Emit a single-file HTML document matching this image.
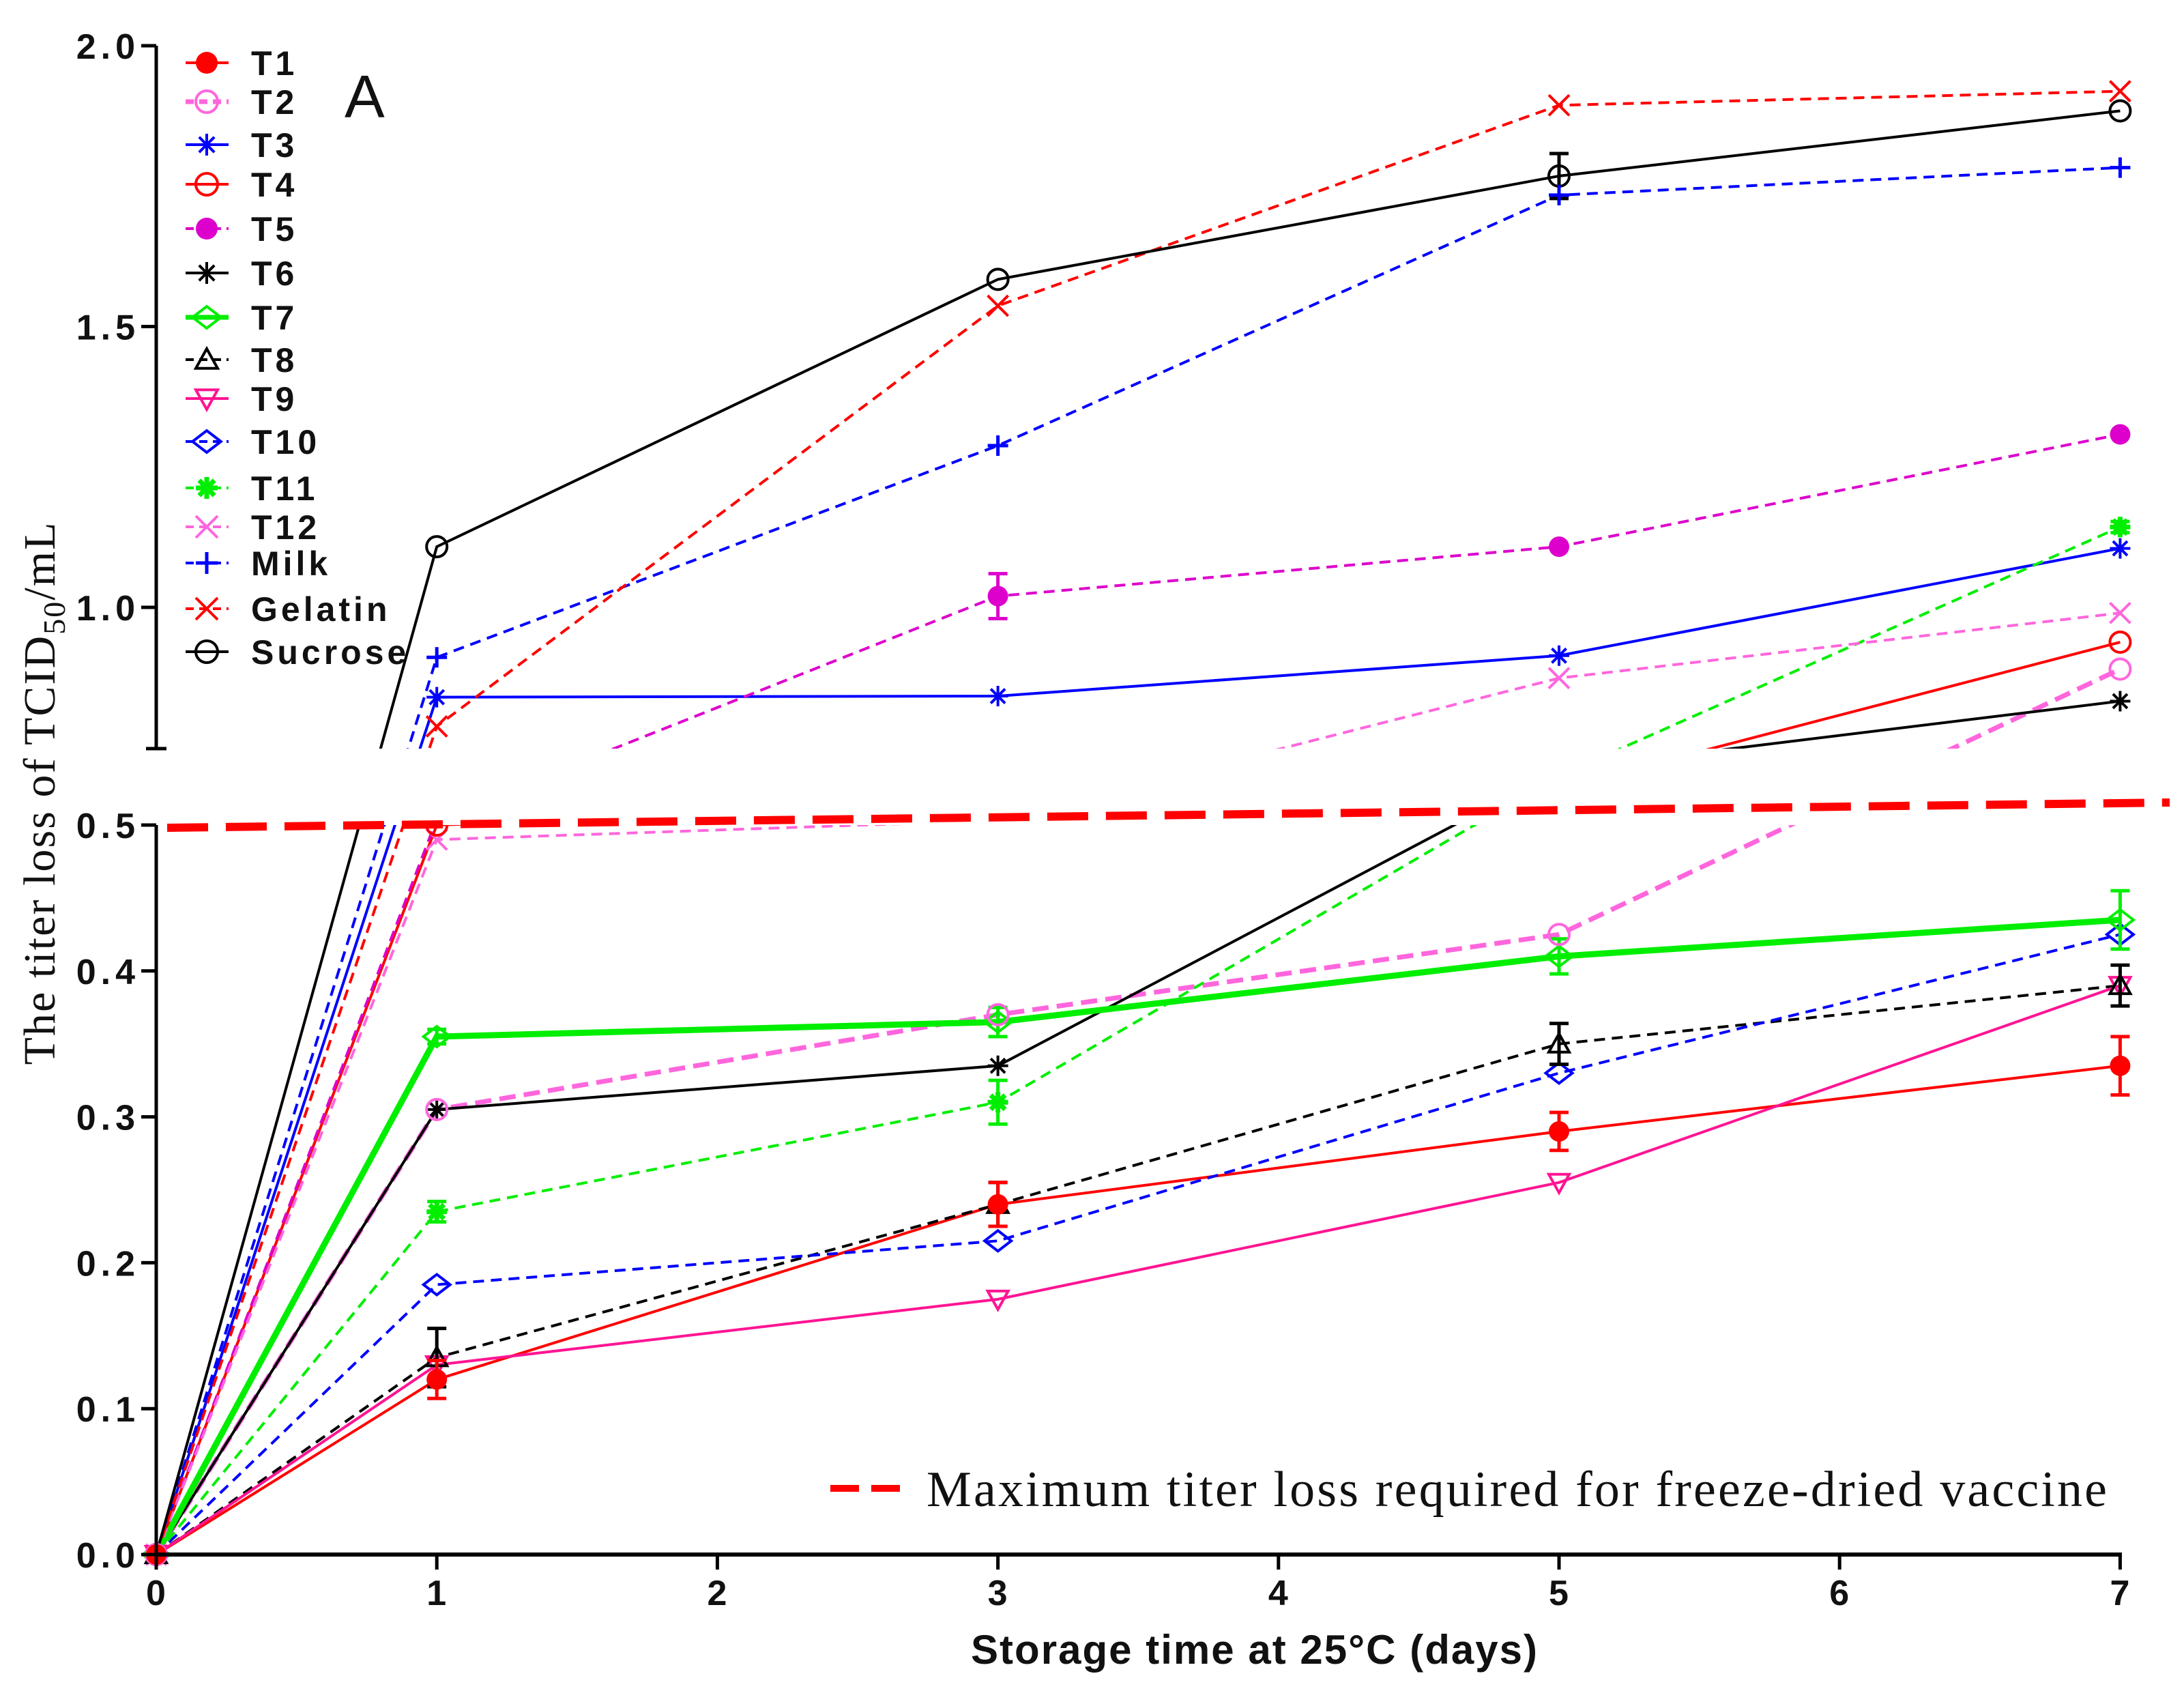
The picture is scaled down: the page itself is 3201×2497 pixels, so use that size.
<!DOCTYPE html>
<html><head><meta charset="utf-8">
<style>
html,body{margin:0;padding:0;background:#fff;}
svg{display:block;}
.tk{font-family:"Liberation Sans",Arial,sans-serif;font-weight:bold;font-size:52px;fill:#111;letter-spacing:7px;}
.lg{font-family:"Liberation Sans",Arial,sans-serif;font-weight:bold;font-size:50px;fill:#111;letter-spacing:5px;}
</style></head>
<body>
<svg id="chart" xmlns="http://www.w3.org/2000/svg" width="3201" height="2497" viewBox="0 0 3201 2497">
<defs>
<clipPath id="clipLow"><rect x="200" y="1209" width="3000" height="1120"/></clipPath>
<clipPath id="clipUp"><rect x="200" y="30" width="3000" height="1067"/></clipPath>
</defs>
<g id="axes"></g>
<g id="lowSeries" clip-path="url(#clipLow)"></g>
<g id="upSeries" clip-path="url(#clipUp)"></g>
<g id="legend"></g>
</svg>
<script>
const days = [0, 1, 3, 5, 7];
const seriesNames = ["T1","T2","T3","T4","T5","T6","T7","T8","T9","T10","T11","T12","Milk","Gelatin","Sucrose"];
const t1 = [0, 0.12, 0.24, 0.29, 0.335];
const t2 = [0, 0.305, 0.37, 0.425, 0.89];
const t3 = [0, 0.84, 0.842, 0.914, 1.105];
const t4 = [0, 0.50, 0.56, 0.62, 0.938];
const t5 = [0, 0.52, 1.02, 1.108, 1.308];
const t6 = [0, 0.305, 0.335, 0.68, 0.833];
const t7 = [0, 0.355, 0.365, 0.41, 0.435];
const t8 = [0, 0.135, 0.24, 0.35, 0.39];
const t9 = [0, 0.13, 0.175, 0.255, 0.39];
const t10 = [0, 0.185, 0.215, 0.33, 0.425];
const t11 = [0, 0.235, 0.31, 0.66, 1.143];
const t12 = [0, 0.49, 0.515, 0.874, 0.99];
const milk = [0, 0.911, 1.288, 1.734, 1.783];
const gelatin = [0, 0.788, 1.537, 1.894, 1.919];
const sucrose = [0, 1.108, 1.584, 1.768, 1.884];
const errT1 = [0, 0.013, 0.015, 0.013, 0.02];
const errT7 = [0, 0.005, 0.01, 0.012, 0.02];
const errT8 = [0, 0.02, 0.015, 0.014, 0.014];
const errT11 = [0, 0.007, 0.015, 0, 0.01];
const errT5 = [0, 0, 0.04, 0, 0];
const errSuc = [0, 0, 0, 0.04, 0];
const xTicks = [0,1,2,3,4,5,6,7];
const yLowTicks = [0.0,0.1,0.2,0.3,0.4,0.5];
const yUpTicks = [1.0,1.5,2.0];
const limitValue = 0.5;

const NS="http://www.w3.org/2000/svg";
function X(d){return 229 + d*411.2;}
function YL(v){return 2278 - v*2138;}
function YU(v){return 890 - (v-1)*823;}
const breakLow=0.5, breakHigh=0.748;
function Y(v){
  if(v<=breakLow) return YL(v);
  if(v>=breakHigh) return YU(v);
  return YL(breakLow) + (v-breakLow)/(breakHigh-breakLow)*(YU(breakHigh)-YL(breakLow));
}
function mk(tag,parent,attrs){const e=document.createElementNS(NS,tag);for(const k in attrs)e.setAttribute(k,attrs[k]);parent.appendChild(e);return e;}

const styles = [
 {vals:t1,col:"#ff0000",w:4,dash:"",m:"fcircle",err:errT1},
 {vals:t2,col:"#ff66dd",w:7,dash:"24 12",m:"ocircle"},
 {vals:t3,col:"#0000ff",w:4,dash:"",m:"star"},
 {vals:t4,col:"#ff0000",w:4,dash:"",m:"ocircle"},
 {vals:t5,col:"#dd00cc",w:4,dash:"16 10",m:"fcircle",err:errT5},
 {vals:t6,col:"#000000",w:4,dash:"",m:"star"},
 {vals:t7,col:"#00ee00",w:9,dash:"",m:"diamond",err:errT7},
 {vals:t8,col:"#000000",w:4,dash:"16 10",m:"tri",err:errT8},
 {vals:t9,col:"#ff1493",w:4,dash:"",m:"dtri"},
 {vals:t10,col:"#0000ff",w:4,dash:"16 10",m:"diamond"},
 {vals:t11,col:"#00ee00",w:4,dash:"16 10",m:"fstar",err:errT11},
 {vals:t12,col:"#ff66dd",w:4,dash:"16 10",m:"x"},
 {vals:milk,col:"#0000ff",w:4,dash:"16 10",m:"plus"},
 {vals:gelatin,col:"#ff0000",w:4,dash:"16 10",m:"x"},
 {vals:sucrose,col:"#000000",w:4,dash:"",m:"ocircle",err:errSuc}
];

function marker(g,type,cx,cy,col,r){
  r=r||15;
  if(type==="fcircle") return mk("circle",g,{cx,cy,r,fill:col});
  if(type==="ocircle") return mk("circle",g,{cx,cy,r,fill:"none",stroke:col,"stroke-width":4});
  if(type==="diamond") return mk("polygon",g,{points:`${cx-r*1.3},${cy} ${cx},${cy-r} ${cx+r*1.3},${cy} ${cx},${cy+r}`,fill:"none",stroke:col,"stroke-width":4});
  if(type==="tri") return mk("polygon",g,{points:`${cx-r},${cy+r*0.8} ${cx+r},${cy+r*0.8} ${cx},${cy-r}`,fill:"none",stroke:col,"stroke-width":4});
  if(type==="dtri") return mk("polygon",g,{points:`${cx-r},${cy-r*0.8} ${cx+r},${cy-r*0.8} ${cx},${cy+r}`,fill:"none",stroke:col,"stroke-width":4});
  if(type==="x") return mk("path",g,{d:`M${cx-r},${cy-r}L${cx+r},${cy+r}M${cx-r},${cy+r}L${cx+r},${cy-r}`,stroke:col,"stroke-width":4});
  if(type==="plus") return mk("path",g,{d:`M${cx-r},${cy}L${cx+r},${cy}M${cx},${cy-r}L${cx},${cy+r}`,stroke:col,"stroke-width":5});
  if(type==="star"||type==="fstar"){
    const sw=type==="fstar"?7:4;
    let d=`M${cx-r},${cy}L${cx+r},${cy}M${cx},${cy-r}L${cx},${cy+r}M${cx-r*0.7},${cy-r*0.7}L${cx+r*0.7},${cy+r*0.7}M${cx-r*0.7},${cy+r*0.7}L${cx+r*0.7},${cy-r*0.7}`;
    return mk("path",g,{d,stroke:col,"stroke-width":sw});
  }
}

function drawPanel(gid){
  const g=document.getElementById(gid);
  styles.forEach((s,i)=>{
    const pts=days.map((d,j)=>`${X(d)},${Y(s.vals[j])}`).join(" ");
    const pl=mk("polyline",g,{points:pts,fill:"none",stroke:s.col,"stroke-width":s.w});
    
    
    if(s.dash) pl.setAttribute("stroke-dasharray",s.dash);
  });
  styles.slice().reverse().forEach((s,ri)=>{
    const i=styles.length-1-ri;
    days.forEach((d,j)=>{
      const v=s.vals[j];
      if(v>breakLow+0.005 && v<breakHigh) return;
      const cx=X(d),cy=Y(v);
      if(s.err&&s.err[j]>0){
        const e1=Y(v+s.err[j]),e2=Y(v-s.err[j]);
        const eb=mk("path",g,{d:`M${cx},${e1}L${cx},${e2}M${cx-14},${e1}L${cx+14},${e1}M${cx-14},${e2}L${cx+14},${e2}`,stroke:s.col,"stroke-width":5});
        
        
      }
      const m=marker(g,s.m,cx,cy,s.col);
      
      
    });
  });
}
drawPanel("lowSeries");
drawPanel("upSeries");

const ax=document.getElementById("axes");
let a;
a=mk("line",ax,{x1:229,y1:YL(0.5),x2:229,y2:2280,stroke:"#000","stroke-width":5});

a=mk("line",ax,{x1:229,y1:YU(2.0),x2:229,y2:1097,stroke:"#000","stroke-width":5});

a=mk("line",ax,{x1:214,y1:1097,x2:244,y2:1097,stroke:"#000","stroke-width":5});

a=mk("line",ax,{x1:227,y1:2278,x2:3110,y2:2278,stroke:"#000","stroke-width":6});

yLowTicks.forEach(v=>{
  const y=YL(v);
  const t=mk("line",ax,{x1:207,y1:y,x2:229,y2:y,stroke:"#000","stroke-width":5});
  
  const l=mk("text",ax,{x:205,y:y+19,"text-anchor":"end",class:"tk"});l.textContent=v.toFixed(1);
  
});
yUpTicks.forEach(v=>{
  const y=YU(v);
  const t=mk("line",ax,{x1:207,y1:y,x2:229,y2:y,stroke:"#000","stroke-width":5});
  
  const l=mk("text",ax,{x:205,y:y+19,"text-anchor":"end",class:"tk"});l.textContent=v.toFixed(1);
  
});
xTicks.forEach(d=>{
  const x=X(d);
  const t=mk("line",ax,{x1:x,y1:2278,x2:x,y2:2300,stroke:"#000","stroke-width":5});
  
  const l=mk("text",ax,{x:x+3,y:2352,"text-anchor":"middle",class:"tk"});l.textContent=d;
  
});
a=mk("line",ax,{x1:245,y1:YL(limitValue)+4,x2:3180,y2:YL(limitValue)-33,stroke:"#ff0000","stroke-width":12,"stroke-dasharray":"60 26"});

document.getElementById("chart").appendChild(ax.parentNode.removeChild(ax));

a=mk("text",ax,{x:1838,y:2438,"text-anchor":"middle","font-family":"Liberation Sans, Arial, sans-serif","font-weight":"bold","font-size":"60",textLength:"830",fill:"#111"});
a.textContent="Storage time at 25°C (days)";

a=mk("text",ax,{transform:"translate(80,1163) rotate(-90)","text-anchor":"middle","font-family":"Liberation Serif, serif","font-size":"66",textLength:"795",fill:"#111"});
a.innerHTML='The titer loss of TCID<tspan font-size="46" dy="15">50</tspan><tspan dy="-15">/mL</tspan>';

a=mk("text",ax,{x:505,y:172,"font-family":"Liberation Sans, Arial, sans-serif","font-size":"88",fill:"#111"});
a.textContent="A";

a=mk("line",ax,{x1:1217,y1:2181,x2:1330,y2:2181,stroke:"#ff0000","stroke-width":10,"stroke-dasharray":"42 18"});

a=mk("text",ax,{x:1358,y:2207,"font-family":"Liberation Serif, serif","font-size":"74",textLength:"1730",fill:"#111"});
a.textContent="Maximum titer loss required  for freeze-dried vaccine";


const lg=document.getElementById("legend");
const legY=[92,149,212,270,335,400,465,527,584,647,715,772,825,892,955];
styles.forEach((s,i)=>{
  const y=legY[i];
  const g=mk("g",lg,{});
  
  
  const ln=mk("line",g,{x1:272,y1:y,x2:335,y2:y,stroke:s.col,"stroke-width":s.w>6?7:4});
  if(s.dash) ln.setAttribute("stroke-dasharray","12 8");
  marker(g,s.m,303,y,s.col,16);
  const t=mk("text",g,{x:368,y:y+18,class:"lg"});t.textContent=seriesNames[i];
});
document.getElementById("chart").appendChild(lg);
</script>
</body></html>
